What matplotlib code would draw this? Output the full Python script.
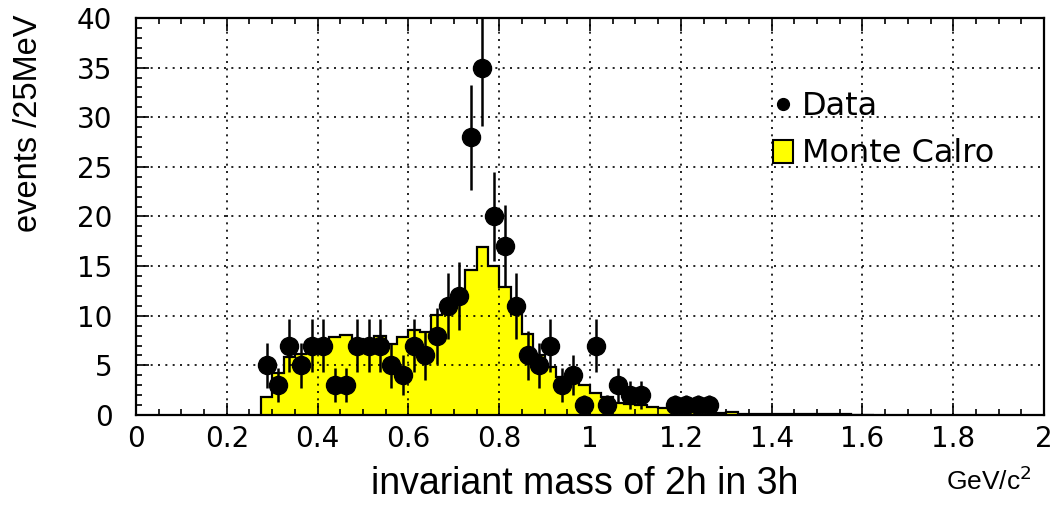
import numpy as np
import matplotlib
matplotlib.use("Agg")
import matplotlib.pyplot as plt
from matplotlib.lines import Line2D
from matplotlib.patches import Patch

# Monte Carlo histogram, 25 MeV bins starting at 0.275 GeV/c^2
bin_width = 0.025
mc_start = 0.275
mc_counts = [1.8, 4.2, 5.8, 6.1, 6.8, 7.6, 7.9, 8.1, 7.7, 7.6,
             8.0, 7.2, 7.9, 8.6, 8.4, 10.1, 10.6, 12.5, 14.6, 16.9,
             15.0, 12.9, 10.2, 8.2, 6.0, 4.8, 3.8, 3.5, 3.0, 2.2,
             1.8, 1.25, 1.1, 1.05, 0.85, 0.75, 0.6, 0.5, 0.45, 0.4,
             0.25, 0.3, 0.1, 0.05, 0.12, 0.1, 0.1, 0.08, 0.1, 0.08,
             0.05, 0.05, 0.03, 0.03]

# data points (bin centres, events)
data_x = [0.2875, 0.3125, 0.3375, 0.3625, 0.3875, 0.4125, 0.4375, 0.4625,
          0.4875, 0.5125, 0.5375, 0.5625, 0.5875, 0.6125, 0.6375, 0.6625,
          0.6875, 0.7125, 0.7375, 0.7625, 0.7875, 0.8125, 0.8375, 0.8625,
          0.8875, 0.9125, 0.9375, 0.9625, 0.9875, 1.0125, 1.0375, 1.0625,
          1.0875, 1.1125, 1.1875, 1.2125, 1.2375, 1.2625]
data_y = [5, 3, 7, 5, 7, 7, 3, 3,
          7, 7, 7, 5, 4, 7, 6, 8,
          11, 12, 28, 35, 20, 17, 11, 6,
          5, 7, 3, 4, 1, 7, 1, 3,
          2, 2, 1, 1, 1, 1]

edges = mc_start + bin_width * np.arange(len(mc_counts) + 1)
data_err = np.sqrt(data_y)

fig = plt.figure(figsize=(10.55, 5.08), dpi=100)
ax = fig.add_axes([0.1289, 0.1831, 0.8607, 0.7815])

# MC histogram: yellow fill + black outline
ax.stairs(mc_counts, edges, fill=True, color="#ffff00", zorder=1)
ax.stairs(mc_counts, edges, baseline=0, color="black", linewidth=1.6, zorder=1.2)

# data with sqrt(N) errors
ax.errorbar(data_x, data_y, yerr=data_err, fmt="o", color="black",
            markersize=13, elinewidth=1.8, capsize=0, zorder=3)

ax.set_xlim(0, 2)
ax.set_ylim(0, 40)
ax.set_xticks(np.arange(0, 2.01, 0.2))
ax.set_xticklabels(["0", "0.2", "0.4", "0.6", "0.8", "1", "1.2", "1.4", "1.6", "1.8", "2"])
ax.set_xticks(np.arange(0, 2.001, 0.05), minor=True)
ax.set_yticks(np.arange(0, 41, 5))
ax.set_yticks(np.arange(0, 41, 1), minor=True)

ax.set_axisbelow(False)
ax.grid(which="major", color="black", linestyle=(0, (1.2, 3.2)), linewidth=1.2)

ax.tick_params(axis="both", which="both", direction="in", width=1.2, colors="black")
ax.tick_params(axis="x", which="both", top=True)
ax.tick_params(axis="both", which="major", length=9)
ax.tick_params(axis="both", which="minor", length=4.5)
ax.tick_params(axis="x", which="major", pad=7)
ax.tick_params(axis="y", which="major", pad=17)
for lab in ax.get_xticklabels() + ax.get_yticklabels():
    lab.set_fontfamily("DejaVu Sans")
    lab.set_fontsize(20)

for sp in ax.spines.values():
    sp.set_linewidth(1.6)

ax.set_xlabel("invariant mass of 2h in 3h", fontsize=27, family="Liberation Sans")
ax.xaxis.set_label_coords(0.4945, -0.128)
ax.set_ylabel("events /25MeV", fontsize=23.5, family="Liberation Sans", va="center")
ax.yaxis.set_label_coords(-0.118, 0.735)
fig.text(0.978, 0.035, r"GeV/c$^2$", fontsize=19, family="Liberation Sans",
         ha="right", va="baseline")

handles = [
    Line2D([], [], marker="o", color="black", linestyle="none", markersize=8.5),
    Patch(facecolor="#ffff00", edgecolor="black", linewidth=1.5),
]
leg = ax.legend(handles, ["Data", "Monte Calro"], loc="upper left",
                bbox_to_anchor=(0.7015, 0.815), frameon=False,
                prop={"family": "DejaVu Sans", "size": 23},
                handlelength=0.62, handleheight=0.75, handletextpad=0.3,
                labelspacing=0.5, borderpad=0, borderaxespad=0)
leg.set_zorder(4)

fig.savefig("out.png", dpi=100)
